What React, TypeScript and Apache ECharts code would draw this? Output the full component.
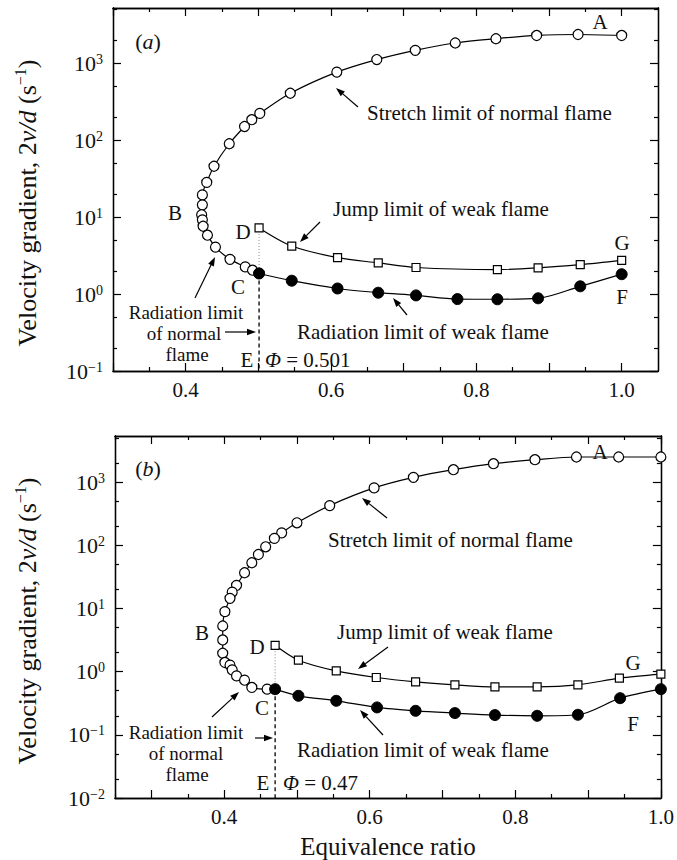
import React, { useEffect, useRef } from "react";
import * as echarts from "echarts";

const FONT = '"Liberation Serif", "Times New Roman", Times, serif';

// ---------- Panel (a) data ----------
const phiStretchA = [1.0, 0.94, 0.883, 0.827, 0.771, 0.716, 0.663, 0.608, 0.544, 0.502, 0.491, 0.481, 0.46, 0.439, 0.429, 0.423, 0.423, 0.422, 0.423, 0.424, 0.43, 0.441, 0.461, 0.482, 0.492, 0.501];
const kStretchA = [2286, 2354, 2286, 2074, 1825, 1466, 1112, 764, 406, 222, 184, 150, 89.6, 45.7, 28.2, 19.4, 14.4, 10.7, 9.2, 7.6, 5.81, 4.07, 2.82, 2.25, 2.04, 1.85];
const phiJumpA = [0.501, 0.546, 0.609, 0.665, 0.717, 0.829, 0.885, 0.943, 1.0];
const kJumpA = [7.22, 4.2, 2.97, 2.54, 2.21, 2.08, 2.19, 2.41, 2.74];
const phiRadA = [0.501, 0.546, 0.609, 0.665, 0.717, 0.774, 0.829, 0.885, 0.943, 1.0];
const kRadA = [1.85, 1.49, 1.18, 1.04, 0.96, 0.86, 0.855, 0.88, 1.26, 1.81];
const phiEA = 0.501;

// ---------- Panel (b) data ----------
const phiStretchB = [1.0, 0.942, 0.884, 0.827, 0.77, 0.715, 0.66, 0.606, 0.545, 0.5, 0.479, 0.469, 0.457, 0.447, 0.438, 0.428, 0.417, 0.411, 0.408, 0.401, 0.398, 0.398, 0.398, 0.401, 0.408, 0.411, 0.417, 0.428, 0.438, 0.459, 0.47];
const kStretchB = [2511, 2511, 2511, 2276, 1967, 1581, 1195, 813, 427, 228, 158, 129, 95, 71.8, 53.1, 36.9, 23.3, 18.2, 14.5, 8.93, 5.29, 3.18, 1.96, 1.4, 1.27, 1.07, 0.858, 0.734, 0.563, 0.529];
const phiJumpB = [0.47, 0.502, 0.554, 0.609, 0.663, 0.717, 0.772, 0.83, 0.886, 0.943, 1.0];
const kJumpB = [2.62, 1.52, 1.03, 0.81, 0.69, 0.619, 0.575, 0.575, 0.619, 0.789, 0.913];
const phiRadB = [0.47, 0.502, 0.554, 0.61, 0.663, 0.717, 0.772, 0.83, 0.886, 0.944, 1.0];
const kRadB = [0.529, 0.415, 0.346, 0.272, 0.24, 0.221, 0.2055, 0.2003, 0.208, 0.381, 0.529];
const phiEB = 0.47;

// ---------- Axis ticks ----------
const xLabelVals = [0.4, 0.6, 0.8, 1.0];
const xMajorVals = [0.3, 0.4, 0.5, 0.6, 0.7, 0.8, 0.9, 1.0];
const xMinorVals = [0.25, 0.35, 0.45, 0.55, 0.65, 0.75, 0.85, 0.95];
const yMajorA = [0.1, 1, 10, 100, 1000];
const yMinorA = [0.2, 0.5, 2, 5, 20, 50, 200, 500, 2000, 5000];
const yMajorB = [0.01, 0.1, 1, 10, 100, 1000];
const yMinorB = [0.02, 0.05, 0.2, 0.5, 2, 5, 20, 50, 200, 500, 2000, 5000];

const pairs = (xs: number[], ys: number[]) => xs.map((x, i) => [x, ys[i]]);

const lineColor = "#000";
const tickStyle = { color: lineColor, width: 1.2 };

function xAxes(grid: number, min: number, max: number) {
  const base = {
    type: "value",
    gridIndex: grid,
    min,
    max,
    splitLine: { show: false },
    axisLine: { show: true, onZero: false, lineStyle: { color: lineColor, width: 1.3 } },
  };
  return [
    {
      ...base,
      position: "bottom",
      axisTick: { show: true, inside: true, length: 8, customValues: xMajorVals, lineStyle: tickStyle },
      axisLabel: {
        show: true,
        customValues: xLabelVals,
        formatter: (v: number) => v.toFixed(1),
        fontSize: 21,
        fontFamily: FONT,
        color: "#111",
        margin: 8,
      },
    },
    {
      ...base,
      position: "bottom",
      axisTick: { show: true, inside: true, length: 4, customValues: xMinorVals, lineStyle: tickStyle },
      axisLabel: { show: false },
    },
    {
      ...base,
      position: "top",
      axisTick: { show: true, inside: true, length: 8, customValues: xMajorVals, lineStyle: tickStyle },
      axisLabel: { show: false },
    },
    {
      ...base,
      position: "top",
      axisTick: { show: true, inside: true, length: 4, customValues: xMinorVals, lineStyle: tickStyle },
      axisLabel: { show: false },
    },
  ];
}

const supLabel = (v: number) => {
  const e = Math.round(Math.log10(v));
  return "{b|10}{s|" + (e < 0 ? "\u2212" + -e : String(e)) + "}";
};

function yAxes(grid: number, min: number, max: number, major: number[], minor: number[]) {
  const base = {
    type: "log",
    logBase: 10,
    gridIndex: grid,
    min,
    max,
    splitLine: { show: false },
    minorTick: { show: false },
    axisLine: { show: true, onZero: false, lineStyle: { color: lineColor, width: 1.3 } },
  };
  return [
    {
      ...base,
      position: "left",
      axisTick: { show: true, inside: true, length: 8, customValues: major, lineStyle: tickStyle },
      axisLabel: {
        show: true,
        customValues: major,
        formatter: supLabel,
        margin: 10,
        rich: {
          b: { fontSize: 22, fontFamily: FONT, color: "#111", lineHeight: 22 },
          s: { fontSize: 14, fontFamily: FONT, color: "#111", lineHeight: 14, verticalAlign: "top" },
        },
      },
    },
    {
      ...base,
      position: "left",
      axisTick: { show: true, inside: true, length: 4, customValues: minor, lineStyle: tickStyle },
      axisLabel: { show: false },
    },
    {
      ...base,
      position: "right",
      axisTick: { show: true, inside: true, length: 8, customValues: major, lineStyle: tickStyle },
      axisLabel: { show: false },
    },
    {
      ...base,
      position: "right",
      axisTick: { show: true, inside: true, length: 4, customValues: minor, lineStyle: tickStyle },
      axisLabel: { show: false },
    },
  ];
}

function panelSeries(
  xi: number,
  yi: number,
  stretch: number[][],
  jump: number[][],
  rad: number[][],
  phiE: number,
  yMin: number
) {
  const common = {
    type: "line",
    xAxisIndex: xi,
    yAxisIndex: yi,
    smooth: 0.3,
    lineStyle: { color: lineColor, width: 1.2 },
    showSymbol: true,
    clip: true,
  };
  const jumpStart = jump[0][1];
  const radStart = rad[0][1];
  return [
    {
      type: "line",
      xAxisIndex: xi,
      yAxisIndex: yi,
      symbol: "none",
      data: [
        [phiE, jumpStart],
        [phiE, radStart],
      ],
      lineStyle: { color: "#888", width: 1, type: [1, 2] },
    },
    {
      type: "line",
      xAxisIndex: xi,
      yAxisIndex: yi,
      symbol: "none",
      data: [
        [phiE, radStart],
        [phiE, yMin],
      ],
      lineStyle: { color: "#000", width: 1.3, type: [4, 3] },
    },
    {
      ...common,
      symbol: "circle",
      symbolSize: 10,
      itemStyle: { color: "#fff", borderColor: "#000", borderWidth: 1.2 },
      data: stretch,
    },
    {
      ...common,
      symbol: "rect",
      symbolSize: 8,
      itemStyle: { color: "#fff", borderColor: "#000", borderWidth: 1.2 },
      data: jump,
    },
    {
      ...common,
      symbol: "circle",
      symbolSize: 11,
      itemStyle: { color: "#000", borderColor: "#000", borderWidth: 1 },
      data: rad,
    },
  ];
}

// ---------- annotations ----------
const richI = { fontStyle: "italic", fontFamily: FONT, fontSize: 21, fill: "#111" };

function txt(text: string, x: number, y: number, align = "left", size = 21, extra: any = {}) {
  return {
    type: "text",
    x,
    y,
    silent: true,
    style: {
      text,
      fill: "#111",
      fontSize: size,
      fontFamily: FONT,
      align,
      textAlign: align,
      verticalAlign: "middle",
      textVerticalAlign: "middle",
      rich: { i: { ...richI, fontSize: size } },
      ...extra,
    },
  };
}

function arrow(x1: number, y1: number, x2: number, y2: number) {
  const a = Math.atan2(y2 - y1, x2 - x1);
  const L = 9;
  const W = 3.2;
  const c = Math.cos(a);
  const s = Math.sin(a);
  const bx = x2 - L * c;
  const by = y2 - L * s;
  return [
    { type: "line", silent: true, shape: { x1, y1, x2: bx, y2: by }, style: { stroke: "#000", lineWidth: 1.2 } },
    {
      type: "polygon",
      silent: true,
      shape: { points: [[x2, y2], [bx - s * W, by + c * W], [bx + s * W, by - c * W]] },
      style: { fill: "#000" },
    },
  ];
}

function yName(cx: number, cy: number) {
  return {
    type: "text",
    x: cx,
    y: cy,
    rotation: Math.PI / 2,
    silent: true,
    style: {
      text: "Velocity gradient, 2{i|v/d} (s{s|\u22121})",
      fill: "#111",
      fontSize: 26,
      fontFamily: FONT,
      lineHeight: 30,
      align: "center",
      textAlign: "center",
      verticalAlign: "middle",
      textVerticalAlign: "middle",
      rich: {
        i: { fontStyle: "italic", fontFamily: FONT, fontSize: 26, lineHeight: 30 },
        s: { fontFamily: FONT, fontSize: 16, lineHeight: 18, verticalAlign: "top" },
      },
    },
  };
}

const annotations: any[] = [
  // panel a
  txt("({i|a})", 148, 41, "center", 22),
  txt("A", 600, 22, "center"),
  txt("Stretch limit of normal flame", 367, 113),
  ...arrow(358, 107, 336, 88),
  txt("B", 175, 213, "center"),
  txt("D", 243, 232, "center"),
  txt("C", 238, 287, "center"),
  txt("Jump limit of weak flame", 333, 209),
  ...arrow(320, 222, 300, 242),
  txt("G", 622, 243, "center"),
  txt("F", 622, 297, "center"),
  txt("Radiation limit of weak flame", 297, 332),
  ...arrow(407, 315, 393, 298),
  txt("Radiation limit", 186, 312, "center", 19),
  txt("of normal", 184, 333, "center", 19),
  txt("flame", 187, 354, "center", 19),
  ...arrow(195, 298, 215, 257),
  ...arrow(225, 332, 256, 332),
  txt("E", 247, 360, "center"),
  txt("{i|\u03A6} = 0.501", 265, 360),
  // panel b
  txt("({i|b})", 148, 468, "center", 22),
  txt("A", 600, 452, "center"),
  txt("Stretch limit of normal flame", 328, 540),
  ...arrow(387, 518, 362, 498),
  txt("B", 202, 633, "center"),
  txt("D", 257, 647, "center"),
  txt("C", 262, 708, "center"),
  txt("Jump limit of weak flame", 337, 632),
  ...arrow(388, 647, 358, 669),
  txt("G", 633, 663, "center"),
  txt("F", 633, 724, "center"),
  txt("Radiation limit of weak flame", 297, 750),
  ...arrow(383, 735, 360, 710),
  txt("Radiation limit", 186, 732, "center", 19),
  txt("of normal", 186, 753, "center", 19),
  txt("flame", 187, 774, "center", 19),
  ...arrow(212, 717, 239, 692),
  ...arrow(255, 738, 273, 738),
  txt("E", 263, 783, "center"),
  txt("{i|\u03A6} = 0.47", 283, 783),
  // axis names
  yName(27, 203),
  yName(27, 621),
  txt("Equivalence ratio", 388, 846, "center", 25),
];

export default function App() {
  const ref = useRef<HTMLDivElement>(null);
  useEffect(() => {
    if (!ref.current) return;
    const chart = echarts.init(ref.current, null, { renderer: "svg" });
    const yMaxA = 5200;
    const yMaxB = 5400;
    const option: any = {
      animation: false,
      backgroundColor: "#fff",
      textStyle: { fontFamily: FONT },
      grid: [
        { left: 113, top: 8, width: 545, height: 363 },
        { left: 115, top: 436, width: 546, height: 362 },
      ],
      xAxis: [...xAxes(0, 0.3, 1.05), ...xAxes(1, 0.25, 1.0)],
      yAxis: [...yAxes(0, 0.1, yMaxA, yMajorA, yMinorA), ...yAxes(1, 0.01, yMaxB, yMajorB, yMinorB)],
      series: [
        ...panelSeries(0, 0, pairs(phiStretchA, kStretchA), pairs(phiJumpA, kJumpA), pairs(phiRadA, kRadA), phiEA, 0.1),
        ...panelSeries(4, 4, pairs(phiStretchB, kStretchB), pairs(phiJumpB, kJumpB), pairs(phiRadB, kRadB), phiEB, 0.01),
      ],
      graphic: { elements: annotations },
    };
    chart.setOption(option);
    return () => chart.dispose();
  }, []);
  return (
    <div
      ref={ref}
      style={{ position: "absolute", left: 0, top: 0, width: 677, height: 860, background: "#fff" }}
    />
  );
}
